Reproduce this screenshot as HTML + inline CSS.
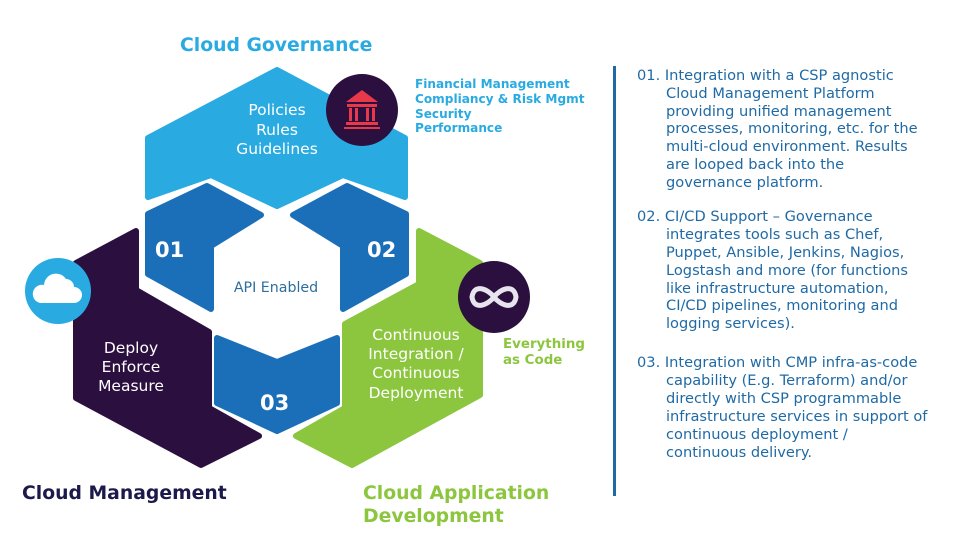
<!DOCTYPE html>
<html><head><meta charset="utf-8"><style>
html,body{margin:0;padding:0;background:#fff;}
svg{display:block}
.r{font-family:"DejaVu Sans",Verdana,sans-serif;font-size:14.6px;fill:#1f6aa5;}
</style></head><body>
<svg width="960" height="541" viewBox="0 0 960 541" xmlns="http://www.w3.org/2000/svg">
<g stroke-linejoin="round" stroke-width="6">
<polygon fill="#29abe2" stroke="#29abe2" points="277,70 405,138 405,197 343,175 277,206 211,175 148,197 148,138"/>
<polygon fill="#1b6fb9" stroke="#1b6fb9" points="207,186 261,215 211,246 211,309 148,274 148,214"/>
<polygon fill="#1b6fb9" stroke="#1b6fb9" points="347,186 293,215 343,246 343,309 406,274 406,214"/>
<polygon fill="#1b6fb9" stroke="#1b6fb9" points="217,338 277,362 337,338 337,403 277,431 217,403"/>
<polygon fill="#2b0f3f" stroke="#2b0f3f" points="136,231 76,263 76,398 201,465 259,436 209,408 209,332 136,290"/>
<polygon fill="#8cc63f" stroke="#8cc63f" points="419,231 480,263 480,395 352,465 296,436 345,408 345,324 419,284"/>
</g>
<circle cx="362" cy="110" r="36" fill="#2b0f3f"/>
<g fill="#e8394a">
<polygon points="362,90 346,102 378,102"/>
<rect x="347" y="104" width="30" height="3"/>
<rect x="349" y="108" width="3" height="13"/><rect x="355" y="108" width="3" height="13"/><rect x="366" y="108" width="3" height="13"/><rect x="372" y="108" width="3" height="13"/>
<rect x="346" y="122" width="32" height="3"/><rect x="344" y="127" width="36" height="2"/>
</g>
<circle cx="58" cy="291" r="33" fill="#29abe2"/>
<path d="M40,303 h34 a8,8 0 0 0 0,-16 a8,8 0 0 0 -8,-8 a12,12 0 0 0 -22,6 a9,9 0 0 0 -4,18z" fill="#fff"/>
<circle cx="494" cy="297" r="36" fill="#2b0f3f"/>
<path d="M494,297 c-6,-8 -20,-14 -22,0 c2,14 16,8 22,0 c6,-8 20,-14 22,0 c-2,14 -16,8 -22,0z" fill="none" stroke="#e8e4ee" stroke-width="5"/>
<g font-family="DejaVu Sans,Verdana,sans-serif" font-weight="bold">
<text x="180" y="51" font-size="18.8" fill="#29abe2">Cloud Governance</text>
<text x="22" y="499" font-size="18.8" fill="#1b1a4a">Cloud Management</text>
<text x="363" y="499" font-size="18.8" fill="#8cc63f">Cloud Application</text>
<text x="363" y="522" font-size="18.8" fill="#8cc63f">Development</text>
<g font-size="12.1" fill="#29abe2">
<text x="415" y="88">Financial Management</text>
<text x="415" y="103">Compliancy &amp; Risk Mgmt</text>
<text x="415" y="118">Security</text>
<text x="415" y="132">Performance</text>
</g>
<g font-size="13.4" fill="#8cc63f">
<text x="503" y="348">Everything</text>
<text x="503" y="364">as Code</text>
</g>
<g font-size="21" fill="#fff">
<text x="155" y="257">01</text>
<text x="367" y="257">02</text>
<text x="260" y="410">03</text>
</g>
</g>
<g font-family="DejaVu Sans,Verdana,sans-serif" font-size="15.5" fill="#fff" text-anchor="middle">
<text x="277" y="115">Policies</text>
<text x="277" y="135">Rules</text>
<text x="277" y="154">Guidelines</text>
<text x="131" y="353">Deploy</text>
<text x="131" y="372">Enforce</text>
<text x="131" y="391">Measure</text>
<text x="416" y="340">Continuous</text>
<text x="416" y="359">Integration /</text>
<text x="416" y="378">Continuous</text>
<text x="416" y="398">Deployment</text>
<text x="276" y="292" font-size="14.2" fill="#2e6e9e">API Enabled</text>
</g>
<rect x="613" y="66" width="3" height="430" fill="#1f6aa5"/>
<g class="r">
<text x="637" y="80">01. Integration with a CSP agnostic</text>
<text x="666" y="98">Cloud Management Platform</text>
<text x="666" y="116">providing unified management</text>
<text x="666" y="133">processes, monitoring, etc. for the</text>
<text x="666" y="151">multi-cloud environment. Results</text>
<text x="666" y="169">are looped back into the</text>
<text x="666" y="187">governance platform.</text>
<text x="637" y="221">02. CI/CD Support – Governance</text>
<text x="666" y="239">integrates tools such as Chef,</text>
<text x="666" y="257">Puppet, Ansible, Jenkins, Nagios,</text>
<text x="666" y="275">Logstash and more (for functions</text>
<text x="666" y="293">like infrastructure automation,</text>
<text x="666" y="310">CI/CD pipelines, monitoring and</text>
<text x="666" y="328">logging services).</text>
<text x="637" y="367">03. Integration with CMP infra-as-code</text>
<text x="666" y="385">capability (E.g. Terraform) and/or</text>
<text x="666" y="403">directly with CSP programmable</text>
<text x="666" y="421">infrastructure services in support of</text>
<text x="666" y="439">continuous deployment /</text>
<text x="666" y="457">continuous delivery.</text>
</g>
</svg>
</body></html>
